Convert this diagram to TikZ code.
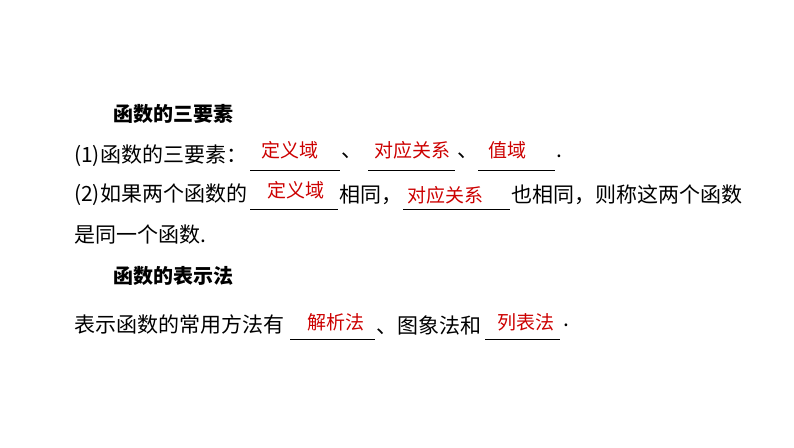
\documentclass[tikz,border=0pt]{standalone}
\usepackage{fontspec}
\setmainfont{Liberation Serif}
\newfontfamily\cjk{Noto Sans CJK SC}
\begin{document}
\begin{tikzpicture}[x=1pt,y=-1pt,
  txt/.style={anchor=west,inner sep=0pt,font=\fontsize{21}{21}\selectfont\cjk},
  ans/.style={anchor=center,inner sep=0pt,text=red!80!black,font=\fontsize{19}{19}\selectfont\cjk},
  ul/.style={line width=0.8pt}]
\useasboundingbox (0,0) rectangle (794,447);
\node[txt,font=\fontsize{20}{20}\selectfont\cjk\bfseries] (h1) at (113,114) {函数的三要素};
\node[txt] (l1) at (74,156) {(1)函数的三要素：};
\coordinate (a1) at (250,170); \coordinate (b1) at (340,170);
\draw[ul] (a1) -- (b1);
\node[ans] (r1) at (290,150) {定义域};
\node[txt] (d1) at (341,156) {、};
\coordinate (a2) at (368,170); \coordinate (b2) at (455,170);
\draw[ul] (a2) -- (b2);
\node[ans] (r2) at (412,150) {对应关系};
\node[txt] (d2) at (457,156) {、};
\coordinate (a3) at (478,170); \coordinate (b3) at (555,170);
\draw[ul] (a3) -- (b3);
\node[ans] (r3) at (507,150) {值域};
\node[txt] (p1) at (556,156) {.};
\node[txt] (l2) at (74,195) {(2)如果两个函数的};
\coordinate (a4) at (250,209); \coordinate (b4) at (338,209);
\draw[ul] (a4) -- (b4);
\node[ans] (r4) at (296,190) {定义域};
\node[txt] (s2) at (339,195) {相同，};
\coordinate (a5) at (403,209); \coordinate (b5) at (510,209);
\draw[ul] (a5) -- (b5);
\node[ans] (r5) at (445,195) {对应关系};
\node[txt] (s3) at (511,195) {也相同，则称这两个函数};
\node[txt] (l3) at (74,235) {是同一个函数.};
\node[txt,font=\fontsize{20}{20}\selectfont\cjk\bfseries] (h2) at (113,276) {函数的表示法};
\node[txt] (l4) at (74,325) {表示函数的常用方法有};
\coordinate (a6) at (290,339); \coordinate (b6) at (375,339);
\draw[ul] (a6) -- (b6);
\node[ans] (r6) at (336,322) {解析法};
\node[txt] (s4) at (376,325) {、图象法和};
\coordinate (a7) at (485,339); \coordinate (b7) at (560,339);
\draw[ul] (a7) -- (b7);
\node[ans] (r7) at (526,322) {列表法};
\node[txt] (p2) at (563,325) {.};
\end{tikzpicture}
\end{document}
